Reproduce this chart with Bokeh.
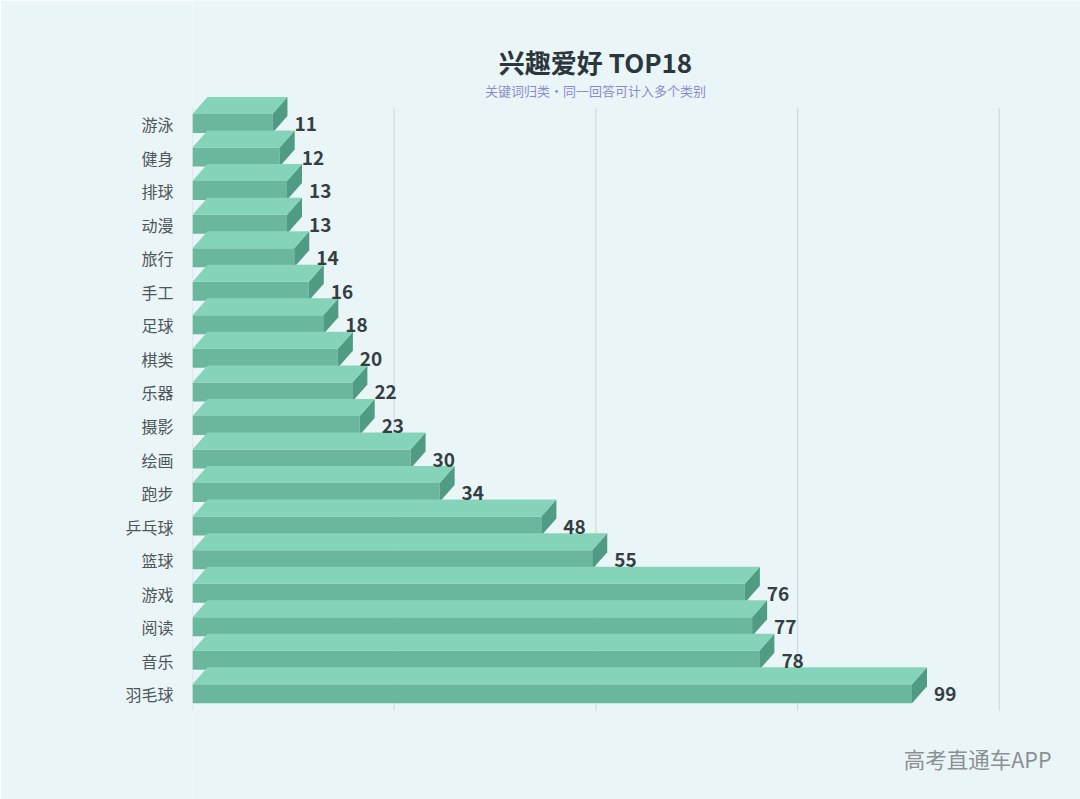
from bokeh.core.properties import value
from bokeh.embed import file_html
from bokeh.models import FixedTicker, Label, Range1d
from bokeh.plotting import figure
from bokeh.resources import INLINE

categories = ["游泳", "健身", "排球", "动漫", "旅行", "手工", "足球", "棋类", "乐器",
              "摄影", "绘画", "跑步", "乒乓球", "篮球", "游戏", "阅读", "音乐", "羽毛球"]
counts = [11, 12, 13, 13, 14, 16, 18, 20, 22, 23, 30, 34, 48, 55, 76, 77, 78, 99]
grid_values = [0, 27.75, 55.5, 83.25, 111]

BG = "#eaf5f8"
TOP = "#85d4b9"
FRONT = "#6ab79e"
SIDE = "#4f9b83"
FONT = "Noto Sans CJK SC"

# frame runs from the axis to the right and bottom edges, so the titles can live inside it
PX_X = 806 / 110.9
PX_ROW = 33.55
depth_x = 15 / PX_X
depth_y = 17 / PX_ROW
bar_h = 19 / PX_ROW
shift = 0.5 / PX_ROW

rows = list(range(len(categories)))

p = figure(width=1080, height=799, output_backend="svg", toolbar_location=None,
           x_range=Range1d(0, 888 / PX_X), y_range=Range1d(675.5 / PX_ROW, -123.5 / PX_ROW),
           min_border_left=192, min_border_right=0, min_border_top=0, min_border_bottom=0)
p.background_fill_color = BG
p.border_fill_color = BG
p.outline_line_color = None
p.xgrid.visible = False
p.ygrid.visible = False
p.xaxis.visible = False

p.yaxis.ticker = FixedTicker(ticks=rows)
p.yaxis.major_label_overrides = dict(zip(rows, categories))
p.yaxis.axis_line_color = None
p.yaxis.major_tick_line_color = None
p.yaxis.major_tick_out = 0
p.yaxis.minor_tick_line_color = None
p.yaxis.major_label_standoff = 19
p.yaxis.major_label_text_font = FONT
p.yaxis.major_label_text_font_size = "16px"
p.yaxis.major_label_text_color = "#4d5659"

p.segment(grid_values, -16.5 / PX_ROW, grid_values, 586.5 / PX_ROW, line_color="#cfdcdf", line_width=1.2)

top_edge = [r - shift - bar_h / 2 for r in rows]
bottom_edge = [r - shift + bar_h / 2 for r in rows]

p.quad(left=0, right=counts, top=top_edge, bottom=bottom_edge, fill_color=FRONT, line_color=None)
p.patches(
    [[c, c + depth_x, c + depth_x, c] for c in counts],
    [[t, t - depth_y, b - depth_y, b] for t, b in zip(top_edge, bottom_edge)],
    fill_color=SIDE, line_color=None,
)
p.patches(
    [[0, depth_x, c + depth_x, c] for c in counts],
    [[t, t - depth_y, t - depth_y, t] for t in top_edge],
    fill_color=TOP, line_color=None,
)

p.text(counts, rows, text=[str(c) for c in counts], x_offset=22, y_offset=0,
       text_align="left", text_baseline="middle", text_font=value(FONT),
       text_font_style="bold", text_font_size="19px", text_color="#343f44")

p.add_layout(Label(x=403, y=738, x_units="screen", y_units="screen", text="兴趣爱好 TOP18",
                   text_font=FONT, text_font_style="bold", text_font_size="26px",
                   text_color="#2b373c", text_align="center", text_baseline="middle"))
p.add_layout(Label(x=403, y=709, x_units="screen", y_units="screen", text="关键词归类·同一回答可计入多个类别",
                   text_font=FONT, text_font_size="13px",
                   text_color="#8a8ccd", text_align="center", text_baseline="middle"))
p.add_layout(Label(x=859, y=41, x_units="screen", y_units="screen", text="高考直通车APP",
                   text_font=FONT, text_font_size="21.5px",
                   text_color="#8c9093", text_align="right", text_baseline="middle"))

open("out.html", "w").write(file_html(p, INLINE))
